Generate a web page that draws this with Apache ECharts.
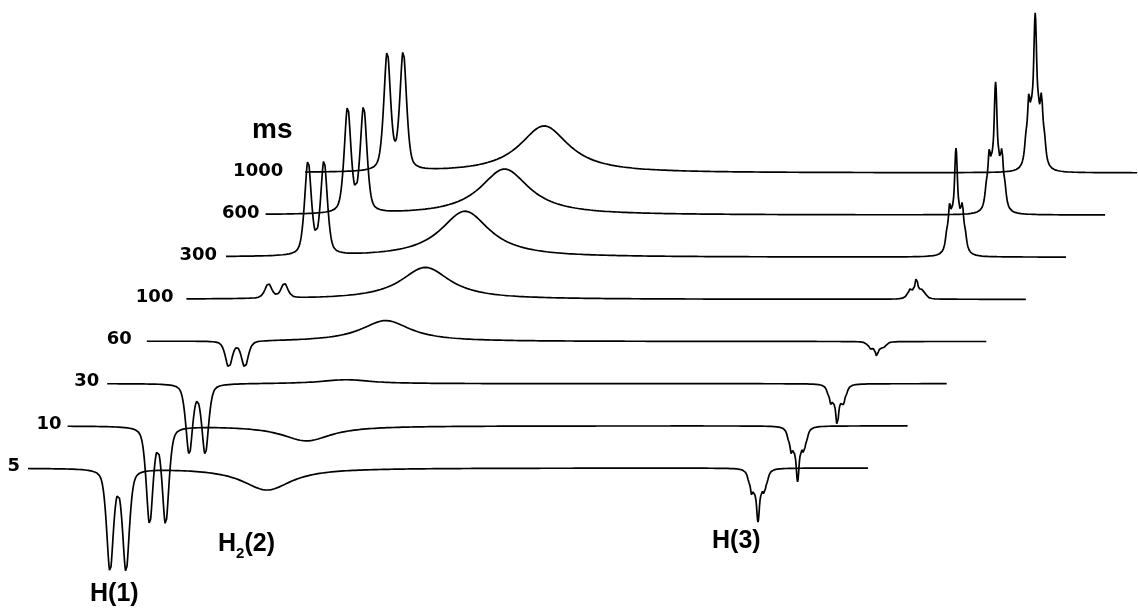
<!DOCTYPE html>
<html>
<head>
<meta charset="utf-8">
<script src="https://cdn.jsdelivr.net/npm/echarts@6/dist/echarts.min.js"></script>
<style>
  html, body { margin: 0; padding: 0; background: #fff; }
  #chart { width: 1138px; height: 608px; }
</style>
</head>
<body>
<div id="chart"></div>
<script>
// ---------------- DATA ----------------
// Inversion-recovery delays (ms), bottom trace first
const delaysMs = ['5', '10', '30', '60', '100', '300', '600', '1000'];
// Peak intensities per trace (arbitrary units, + up / - inverted)
const h1Intensity = [-103, -98, -71, -27, 15, 95, 107, 120];
const h2Intensity = [-22, -15, 4, 21, 32, 46, 46, 47];
const h3Intensity = [-54, -56, -42, -15, 21, 109, 133, 160];
// Spectral positions (spectrum points) of the resonances
const h1Lines = [82, 98];          // H(1) doublet
const h2Center = 239;              // H2(2) broad line
const h3Center = 730;              // H(3) multiplet
const spectrumPoints = 840;
// Peak labels
const peakLabels = ['H(1)', 'H2(2)', 'H(3)'];
const unitLabel = 'ms';

// ---------------- LAYOUT / STYLE ----------------
const CHART_W = 1138;
const L = { x0: 28, dx: 39.6, base0: 468, dy: 42.15, yMin: -120, yMax: 170 };
const labelGap = [8, 6, 8, 15, 13, 9, 6, 22];
const INK = '#000';

// ---------------- line-shape model ----------------
function lor(x, c, w) { const t = (x - c) / w; return 1 / (1 + t * t); }
function gau(x, c, s) { const t = x - c; return Math.exp(-(t * t) / (2 * s * s)); }
function voigt(x, c) { return 0.5 * gau(x, c, 3.6) + 0.5 * lor(x, c, 3.6); }
function h1Shape(x) { return voigt(x, h1Lines[0]) + voigt(x, h1Lines[1]); }
function h2Shape(x) { return lor(x, h2Center, 30); }
function h3Shape(x) {
  const c = h3Center, w = 1.8;
  return 0.5 * gau(x, c, 1.4) + 0.2 * lor(x, c, w) +
         0.22 * (lor(x, c - 3.2, w) + lor(x, c + 3.2, w)) +
         0.32 * (lor(x, c - 6.3, w) + lor(x, c + 6.3, w)) +
         0.10 * (lor(x, c - 9.3, w) + lor(x, c + 9.3, w));
}
const h1Norm = h1Shape(h1Lines[0]);
const h2Norm = h2Shape(h2Center);
const h3Norm = h3Shape(h3Center);

function traceData(i, maxX) {
  const pts = [];
  for (let k = 0; k <= maxX * 2; k++) {
    const x = k / 2;
    const y = h1Intensity[i] * h1Shape(x) / h1Norm +
              h2Intensity[i] * h2Shape(x) / h2Norm +
              h3Intensity[i] * h3Shape(x) / h3Norm;
    pts.push([x, y]);
  }
  return pts;
}

const grids = [], xAxes = [], yAxes = [], series = [], graphics = [];
const plotH = L.yMax - L.yMin;
for (let i = 0; i < delaysMs.length; i++) {
  const left = L.x0 + L.dx * i;
  const base = L.base0 - L.dy * i;
  const w = Math.min(spectrumPoints, Math.floor(CHART_W - left));
  grids.push({ left: left, top: base - L.yMax, width: w, height: plotH, containLabel: false });
  xAxes.push({ type: 'value', gridIndex: i, min: 0, max: w, show: false });
  yAxes.push({ type: 'value', gridIndex: i, min: L.yMin, max: L.yMax, show: false });
  series.push({
    type: 'line', xAxisIndex: i, yAxisIndex: i, data: traceData(i, w),
    showSymbol: false, symbol: 'none', silent: true, animation: false,
    lineStyle: { color: INK, width: 1.7 }, z: 10 + i
  });
  graphics.push({
    type: 'text', x: left - labelGap[i], y: base - 2, silent: true,
    style: {
      text: delaysMs[i], fill: INK, align: 'right', verticalAlign: 'middle',
      fontFamily: 'DejaVu Sans', fontWeight: 'bold', fontSize: 18
    }
  });
}

const FF = 'Liberation Sans, Arial, sans-serif';
const bigFont = { fontFamily: FF, fontWeight: 'bold', fill: INK };
graphics.push({ type: 'text', x: 252, y: 130, silent: true,
  style: Object.assign({ text: unitLabel, fontSize: 28, align: 'left', verticalAlign: 'middle' }, bigFont) });
graphics.push({ type: 'text', x: 90, y: 594, silent: true,
  style: Object.assign({ text: peakLabels[0], fontSize: 25, align: 'left', verticalAlign: 'middle' }, bigFont) });
graphics.push({ type: 'text', x: 712, y: 541, silent: true,
  style: Object.assign({ text: peakLabels[2], fontSize: 25, align: 'left', verticalAlign: 'middle' }, bigFont) });
graphics.push({ type: 'text', x: 218, y: 544, silent: true,
  style: Object.assign({
    text: '{h|H}{s|2}{h|(2)}', align: 'left', verticalAlign: 'middle',
    rich: {
      h: { fontSize: 25, fontWeight: 'bold', fontFamily: FF, lineHeight: 34, verticalAlign: 'middle', fill: INK },
      s: { fontSize: 15, fontWeight: 'bold', fontFamily: FF, lineHeight: 14, verticalAlign: 'bottom', fill: INK }
    }
  }, bigFont) });

const chart = echarts.init(document.getElementById('chart'), null, { renderer: 'canvas' });
chart.setOption({
  animation: false,
  backgroundColor: '#ffffff',
  grid: grids, xAxis: xAxes, yAxis: yAxes, series: series, graphic: graphics
});
</script>
</body>
</html>
